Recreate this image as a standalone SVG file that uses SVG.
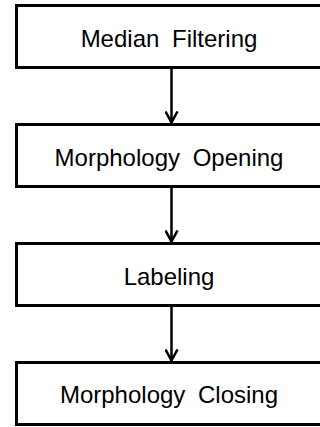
<svg xmlns="http://www.w3.org/2000/svg" width="320" height="427" viewBox="0 0 320 427">
<style>
.box{fill:#fff;stroke:#000;stroke-width:3}
.lbl{font-family:"Liberation Sans",Arial,sans-serif;font-size:24px;fill:#000;text-anchor:middle;word-spacing:6px}
.edge{stroke:#000;stroke-width:2.5;fill:none}
</style>
<defs>
<marker id="ah" markerWidth="14" markerHeight="14" refX="12" refY="7" orient="auto" markerUnits="userSpaceOnUse" viewBox="0 0 14 14">
<path d="M1,1 L12,7 L1,13" fill="none" stroke="#000" stroke-width="2.5"/>
</marker>
</defs>
<g id="n1"><rect class="box" x="16.5" y="5.5" width="310" height="62"/><text class="lbl" x="169" y="47">Median Filtering</text></g>
<g id="n2"><rect class="box" x="16.5" y="124.5" width="310" height="62"/><text class="lbl" x="169" y="166">Morphology Opening</text></g>
<g id="n3"><rect class="box" x="16.5" y="243.5" width="310" height="62"/><text class="lbl" x="169" y="285">Labeling</text></g>
<g id="n4"><rect class="box" x="16.5" y="362.5" width="310" height="62"/><text class="lbl" x="169" y="403">Morphology Closing</text></g>
<g id="edges">
<path class="edge" d="M171.5,69 V122.5" marker-end="url(#ah)"/>
<path class="edge" d="M171.5,188 V241.5" marker-end="url(#ah)"/>
<path class="edge" d="M171.5,307 V360.5" marker-end="url(#ah)"/>
</g>
</svg>
